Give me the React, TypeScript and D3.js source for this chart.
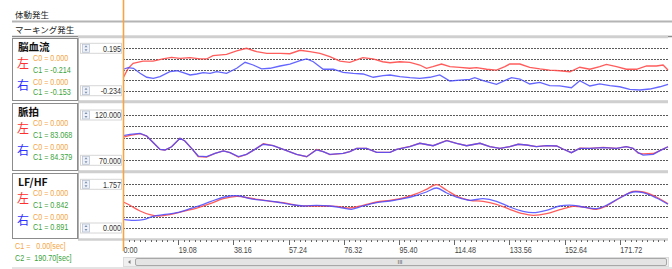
import React from "react";
import * as d3 from "d3";

// ---------- data ----------
const panelNames = ["脳血流", "脈拍", "LF/HF"];
const leftC0 = ["C0 = 0.000", "C0 = 0.000", "C0 = 0.000"];
const leftC1 = ["C1 = -0.214", "C1 = 83.068", "C1 = 0.842"];
const rightC0 = ["C0 = 0.000", "C0 = 0.000", "C0 = 0.000"];
const rightC1 = ["C1 = -0.153", "C1 = 84.379", "C1 = 0.891"];
const yMax = [0.195, 120, 1.757];
const yMin = [-0.234, 70, 0];
const yMaxLabels = ["0.195", "120.000", "1.757"];
const yMinLabels = ["-0.234", "70.000", "0.000"];
const tickLabels = ["0:00", "19.08", "38.16", "57.24", "76.32", "95.40", "114.48", "133.56", "152.64", "171.72"];
const tickStep = 19.08;
const timeEnd = 188.4;
const cursor1 = "C1 =   0.00[sec]";
const cursor2 = "C2 =  190.70[sec]";

const brainLeft: [number, number][] = [
  [0.1, -0.102], [1.8, -0.007], [3.5, 0.043], [6.9, 0.066], [10.4, 0.066], [13.8, 0.087], [16.8, 0.104],
  [19.7, 0.094], [23.2, 0.1], [26.6, 0.087], [28.9, 0.087], [31.1, 0.12], [35.8, 0.134], [39.3, 0.168],
  [42.7, 0.195], [46.2, 0.161], [49.7, 0.144], [54.3, 0.144], [57.7, 0.14], [61.2, 0.175], [64.6, 0.161],
  [68.1, 0.144], [71.5, 0.11], [75, 0.066], [78.4, 0.053], [82.9, 0.1], [86.4, 0.087], [89.8, 0.059],
  [92.3, 0.049], [95.7, 0.059], [99.2, 0.053], [102.6, 0.026], [104.9, -0.007], [107.1, 0.009], [110.1, 0.036],
  [113, 0.009], [116.4, 0.003], [119.9, -0.007], [122.2, -0.001], [125.7, -0.017], [129.1, -0.025], [132, 0.009],
  [133.7, 0.036], [137.2, 0.036], [140.6, 0.003], [144.1, -0.014], [147.5, -0.025], [151, -0.032], [154.5, -0.042],
  [157.9, 0.003], [161.4, -0.017], [164.8, 0.009], [167.1, 0.033], [170.6, 0.009], [174, -0.017], [177.5, -0.017],
  [181, 0.016], [184.4, 0.016], [186.7, 0.026], [188.4, -0.025],
];
const brainRight: [number, number][] = [
  [0.1, -0.017], [1.8, -0.001], [3.6, -0.007], [5.9, -0.058], [8.2, -0.098], [10.5, -0.109], [12.8, -0.092],
  [16.2, -0.042], [18.6, -0.032], [20.8, -0.052], [23.2, -0.075], [25.5, -0.065], [27.7, -0.052], [30.1, -0.058],
  [32.4, -0.042], [35.8, -0.058], [39.3, -0.007], [42.2, 0.053], [45, 0.026], [47.9, -0.014], [50.8, -0.007],
  [54.3, 0.016], [57.7, 0.036], [61.2, 0.07], [63.5, 0.087], [65.8, 0.059], [69.2, -0.017], [72.7, -0.017],
  [76.1, -0.048], [79.6, -0.058], [83, -0.065], [86.5, -0.098], [89.9, -0.082], [92.3, -0.075], [95.7, -0.092],
  [99.2, -0.102], [102.6, -0.109], [106.1, -0.098], [109.5, -0.075], [113, -0.136], [116.4, -0.126], [119.9, -0.119],
  [121.6, -0.102], [124.5, -0.133], [129.1, -0.169], [134.3, -0.102], [137.2, -0.116], [140.6, -0.166], [144.1, -0.149],
  [147.5, -0.183], [151, -0.186], [155, -0.204], [157.9, -0.133], [161.4, -0.186], [164.8, -0.166], [168.3, -0.183],
  [171.7, -0.194], [175.2, -0.22], [178.6, -0.227], [182.1, -0.217], [185.6, -0.194], [188.4, -0.169],
];
const pulseLeft: [number, number][] = [
  [0.1, 95.7], [2.4, 97.5], [5.9, 99.5], [8.2, 96.8], [10.5, 89.4], [12.8, 82.1], [14.5, 81.4], [16.8, 85.0],
  [19.7, 94.3], [21.4, 91.3], [23.7, 83.2], [26, 74.2], [28.9, 73.6], [31.8, 77.7], [34.7, 80.3], [37, 78.4],
  [39.9, 73.6], [42.7, 76.6], [45.6, 82.1], [48.5, 88.2], [51.9, 86.1], [55.4, 82.1], [60, 76.6], [63.5, 74.0],
  [66.9, 81.9], [69.2, 79.5], [71.5, 76.3], [76.1, 77.7], [78.4, 79.5], [80.8, 83.2], [84.2, 83.2], [87.7, 78.8],
  [92.3, 78.8], [94.6, 82.1], [99.2, 85.3], [102.6, 88.8], [107.2, 86.1], [111.9, 92.0], [115.3, 88.8], [118.8, 86.1],
  [123.4, 88.8], [126.8, 85.0], [130.3, 83.2], [133.7, 85.0], [136.6, 87.7], [139.5, 86.9], [142.9, 85.0],
  [146.4, 86.1], [149.9, 85.8], [152.1, 82.5], [155, 78.4], [157.9, 83.5], [161.4, 83.2], [166, 84.2], [170.6, 83.2],
  [174, 85.0], [176.3, 83.2], [178.1, 78.0], [179.8, 77.0], [183.3, 77.5], [185.6, 80.6], [188.4, 85.0],
];
const pulseRight: [number, number][] = [
  [0.1, 97.2], [2.4, 98.7], [5.9, 99.8], [8.2, 96.8], [10.5, 89.4], [12.8, 82.1], [14.5, 81.4], [16.8, 85.0],
  [19.7, 94.3], [21.4, 91.3], [23.7, 83.2], [26, 74.7], [28.9, 74.0], [31.8, 77.7], [34.7, 80.3], [37, 78.4],
  [39.9, 74.0], [42.7, 76.6], [45.6, 82.1], [48.5, 87.7], [51.9, 86.1], [55.4, 82.1], [60, 76.6], [63.5, 74.0],
  [66.9, 81.4], [69.2, 79.5], [71.5, 76.6], [76.1, 77.7], [78.4, 79.5], [80.8, 83.2], [84.2, 83.2], [87.7, 78.8],
  [92.3, 78.8], [94.6, 82.1], [99.2, 85.0], [102.6, 88.8], [107.2, 86.1], [111.9, 91.6], [115.3, 88.8], [118.8, 86.1],
  [123.4, 88.8], [126.8, 85.0], [130.3, 83.2], [133.7, 85.0], [136.6, 87.7], [139.5, 86.9], [142.9, 85.0],
  [146.4, 86.1], [149.9, 85.8], [152.1, 82.5], [155, 78.4], [157.9, 83.2], [161.4, 83.2], [166, 83.9], [170.6, 83.2],
  [174, 85.0], [176.3, 83.2], [178.1, 78.4], [179.8, 75.8], [183.3, 76.6], [185.6, 80.6], [188.4, 85.0],
];
const lfhfLeft: [number, number][] = [
  [0.1, 1.045], [2.4, 0.913], [5.9, 0.684], [9.3, 0.535], [12.2, 0.482], [16.2, 0.535], [20.8, 0.671], [25.5, 0.804],
  [30.1, 0.977], [34.7, 1.178], [39.3, 1.274], [41.6, 1.246], [46.2, 1.154], [50.8, 1.073], [55.4, 1.017], [60, 0.913],
  [64.6, 0.885], [69.2, 0.885], [73.8, 0.872], [78.4, 0.804], [83, 0.913], [87.7, 1.045], [92.3, 1.114], [96.9, 1.206],
  [101.5, 1.379], [104.9, 1.556], [108.4, 1.741], [111.9, 1.516], [115.3, 1.287], [119.9, 1.114], [124.5, 1.073],
  [129.1, 0.953], [133.7, 0.752], [138.3, 0.575], [141.8, 0.511], [146.4, 0.575], [151, 0.736], [155.6, 0.872],
  [159.1, 0.844], [163.7, 0.752], [167.1, 0.885], [171.7, 1.206], [176.3, 1.476], [179.8, 1.447], [184.4, 1.246],
  [188.4, 0.977],
];
const lfhfRight: [number, number][] = [
  [0.1, 0.35], [3.6, 0.31], [7, 0.334], [10.5, 0.47], [13.9, 0.535], [18.6, 0.615], [23.2, 0.776], [27.8, 0.953],
  [32.4, 1.154], [37, 1.287], [40.4, 1.287], [43.9, 1.178], [48.5, 1.114], [53.1, 1.045], [57.7, 0.953], [62.3, 0.885],
  [66.9, 0.913], [71.5, 0.885], [76.1, 0.804], [79, 0.752], [83, 0.885], [87.7, 1.017], [92.3, 1.086], [96.9, 1.178],
  [101.5, 1.315], [104.9, 1.447], [108.4, 1.608], [111.9, 1.407], [115.3, 1.246], [119.9, 1.114], [124.5, 1.178],
  [129.1, 1.073], [133.7, 0.844], [138.3, 0.671], [141.8, 0.615], [146.4, 0.712], [151, 0.885], [155.6, 0.913],
  [159.1, 0.844], [163.7, 0.776], [167.1, 0.913], [171.7, 1.206], [176.3, 1.447], [179.8, 1.419], [184.4, 1.206],
  [188.4, 0.953],
];

const seriesLeft = [brainLeft, pulseLeft, lfhfLeft];
const seriesRight = [brainRight, pulseRight, lfhfRight];

// ---------- layout ----------
const W = 672;
const H = 269;
const X0 = 123;
const X1 = 668;
const panelTop = [38, 103, 173];
const panelBottom = [101, 171, 239];
const gridTop = [48.3, 115, 184.3];
const gridBottom = [90.7, 160.3, 228];

const jp = "'Noto Sans CJK JP', 'Noto Sans', sans-serif";
const sans = "'Liberation Sans', Arial, sans-serif";
const RED = "#ff4a4a";
const BLUE = "#4a4aff";
const ORANGE = "#f7a544";
const GREEN = "#3aa23a";

function NText({
  x,
  y,
  children,
  fill,
  size = 9,
  anchor = "start",
  sx = 0.8,
}: {
  x: number;
  y: number;
  children: React.ReactNode;
  fill: string;
  size?: number;
  anchor?: string;
  sx?: number;
}) {
  return (
    <text
      transform={`translate(${x},${y}) scale(${sx},1)`}
      fontSize={size}
      fontFamily={sans}
      fill={fill}
      textAnchor={anchor}
      style={{ whiteSpace: "pre" }}
    >
      {children}
    </text>
  );
}

function SpinBox({ cy, label }: { cy: number; label: string }) {
  return (
    <g>
      <rect x={80.5} y={cy - 5} width={41} height={10} fill="#fff" stroke="#d6d6d6" />
      <rect x={82.5} y={cy - 4} width={7} height={8} fill="#eef2f8" stroke="#b8c2d2" strokeWidth={0.8} />
      <path d={`M84.5,${cy - 1} L86,${cy - 3} L87.5,${cy - 1} Z`} fill="#7c8fb0" />
      <path d={`M84.5,${cy + 1} L86,${cy + 3} L87.5,${cy + 1} Z`} fill="#7c8fb0" />
      <NText x={121} y={cy + 3.2} fill="#333" anchor="end">{label}</NText>
    </g>
  );
}

export default function App() {
  const x = d3.scaleLinear().domain([0, timeEnd]).range([X0, X1]);
  const minorTicks = d3.range(0, timeEnd + 0.001, tickStep / 10);

  return (
    <div style={{ position: "fixed", left: 0, top: 0 }}>
      <svg width={W} height={H} style={{ display: "block", background: "#fff" }}>
        {/* top rows */}
        <text x={15} y={18} fontSize={8.5} fontFamily={jp} fill="#222">体動発生</text>
        <line x1={12} x2={W} y1={21.5} y2={21.5} stroke="#b4b4b4" strokeWidth={2} />
        <text x={15} y={33} fontSize={8.5} fontFamily={jp} fill="#222">マーキング発生</text>
        <line x1={12} x2={W} y1={36.5} y2={36.5} stroke="#8a8a8a" strokeWidth={1.5} />

        {panelNames.map((name, i) => {
          const y = d3.scaleLinear().domain([yMin[i], yMax[i]]).range([gridBottom[i], gridTop[i]]);
          const gridVals = d3.range(5).map((k) => yMin[i] + (k * (yMax[i] - yMin[i])) / 4);
          const line = d3
            .line<[number, number]>()
            .x((d) => x(d[0]))
            .y((d) => y(d[1]))
            .curve(i === 2 ? d3.curveCatmullRom.alpha(0.5) : d3.curveLinear);
          const top = panelTop[i];
          const bot = panelBottom[i];
          return (
            <g key={name}>
              {/* left label box */}
              <rect x={12.5} y={top + 0.5} width={65} height={bot - top - 1} fill="#fff" stroke="#8c8c8c" />
              <line x1={78} x2={X1} y1={top - 1} y2={top - 1} stroke="#cfcfcf" strokeWidth={2.5} />
              <line x1={78} x2={X1} y1={bot + 0.5} y2={bot + 0.5} stroke="#cfcfcf" strokeWidth={2.5} />
              <line x1={78.5} x2={78.5} y1={top} y2={bot} stroke="#b0b0b0" />
              <text x={18} y={top + 12.5} fontSize={10.5} fontWeight="bold" fontFamily={jp} fill="#111">{name}</text>
              <text x={17} y={top + 29.5} fontSize={12} fontFamily={jp} fill="#ff3030">左</text>
              <NText x={33} y={top + 23} fill={ORANGE}>{leftC0[i]}</NText>
              <NText x={33} y={top + 35} fill={GREEN}>{leftC1[i]}</NText>
              <text x={17} y={top + 52} fontSize={12} fontFamily={jp} fill="#3030ff">右</text>
              <NText x={33} y={top + 46.5} fill={ORANGE}>{rightC0[i]}</NText>
              <NText x={33} y={top + 57} fill={GREEN}>{rightC1[i]}</NText>

              <SpinBox cy={gridTop[i]} label={yMaxLabels[i]} />
              <SpinBox cy={gridBottom[i]} label={yMinLabels[i]} />

              {gridVals.map((v) => (
                <line
                  key={v}
                  x1={X0}
                  x2={X1}
                  y1={Math.round(y(v)) + 0.5}
                  y2={Math.round(y(v)) + 0.5}
                  stroke="#5a5a5a"
                  strokeDasharray="2,1"
                  strokeWidth={1}
                />
              ))}
              <path d={line(seriesLeft[i]) || ""} fill="none" stroke={RED} strokeWidth={1.3} strokeOpacity={0.9} />
              <path d={line(seriesRight[i]) || ""} fill="none" stroke={BLUE} strokeWidth={1.3} strokeOpacity={0.85} />
            </g>
          );
        })}

        {/* time axis */}
        {minorTicks.map((t, k) => (
          <line
            key={k}
            x1={Math.round(x(t)) + 0.5}
            x2={Math.round(x(t)) + 0.5}
            y1={240}
            y2={k % 10 === 0 ? 245 : 242}
            stroke="#666"
            strokeWidth={1}
          />
        ))}
        {tickLabels.map((lab, k) => (
          <NText key={lab} x={x(k * tickStep) + 0.5} y={252.5} fill="#444">{lab}</NText>
        ))}

        {/* cursor texts */}
        <NText x={15} y={249} fill={ORANGE}>{cursor1}</NText>
        <NText x={15} y={261} fill={GREEN}>{cursor2}</NText>

        {/* scrollbar */}
        <rect x={123.5} y={257.5} width={545} height={9} fill="#f0f0f0" stroke="#dcdcdc" />
        <path d="M128,262 L130.5,260 L130.5,264 Z" fill="#777" />
        <rect x={135.5} y={258.5} width={531} height={7} rx={1.5} fill="#e4e4e4" stroke="#a8a8a8" />
        <text x={400} y={264} fontSize={6} fontFamily={sans} fill="#555" textAnchor="middle">III</text>
        <line x1={12} x2={W} y1={268} y2={268} stroke="#c8c8c8" strokeWidth={1} />

        {/* orange cursor line */}
        <line x1={X0 + 0.5} x2={X0 + 0.5} y1={0} y2={251} stroke={ORANGE} strokeWidth={1.6} />
      </svg>
    </div>
  );
}
